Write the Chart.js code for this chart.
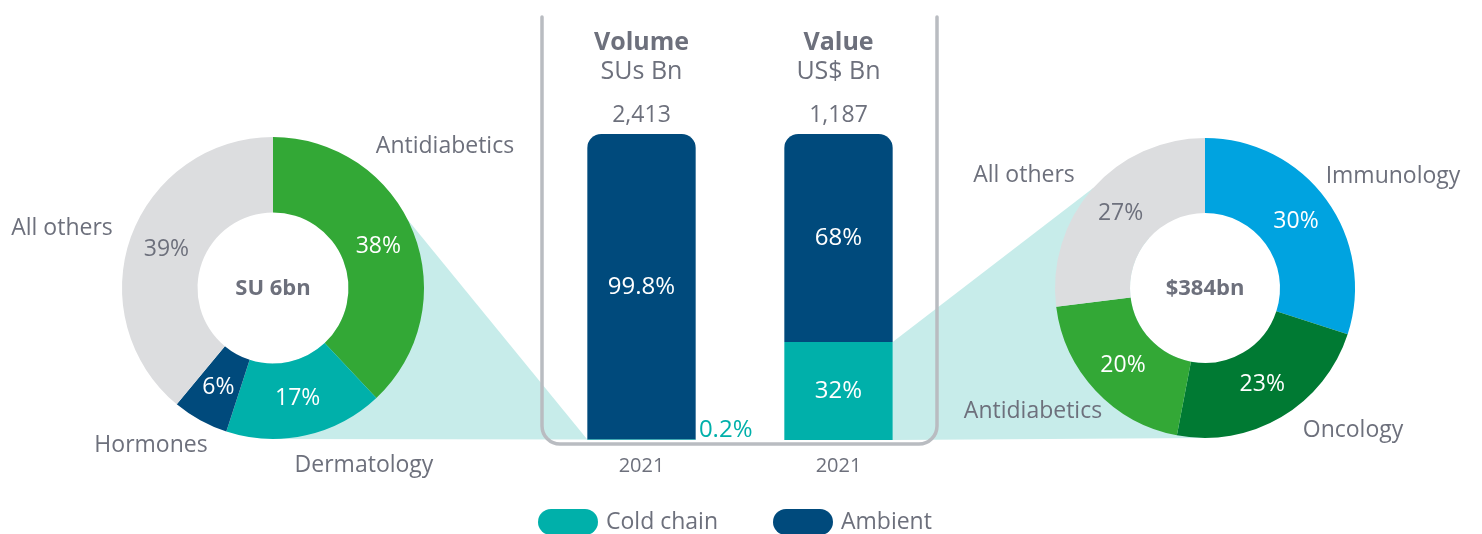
<!DOCTYPE html>
<html>
<head>
<meta charset="utf-8">
<script src="https://cdn.jsdelivr.net/npm/chart.js@4.4.0/dist/chart.umd.min.js"></script>
<style>
    html, body { margin: 0; padding: 0; background: #fff; overflow: hidden; }
    body { width: 1482px; height: 534px; position: relative; font-family: "Open Sans", sans-serif; }
    .box { position: absolute; }
    #bar-box { left: 0; top: 0; width: 1482px; height: 534px; }
    #left-box { left: 0; top: 100px; width: 546px; height: 380px; }
    #right-box { left: 936px; top: 100px; width: 546px; height: 380px; }
</style>
</head>
<body>
<div class="box" id="bar-box"><canvas id="bar-chart"></canvas></div>
<div class="box" id="left-box"><canvas id="volume-donut"></canvas></div>
<div class="box" id="right-box"><canvas id="value-donut"></canvas></div>
<script>
// ---- data ----
const volumeCategories = ['Antidiabetics', 'Dermatology', 'Hormones', 'All others'];
const volumeShares = [38, 17, 6, 39];
const volumeCentreLabel = 'SU 6bn';

const valueCategories = ['Immunology', 'Oncology', 'Antidiabetics', 'All others'];
const valueShares = [30, 23, 20, 27];
const valueCentreLabel = '$384bn';

const barYears = ['2021', '2021'];
const barTitles = ['Volume', 'Value'];
const barUnits = ['SUs Bn', 'US$ Bn'];
const barTotals = ['2,413', '1,187'];
const coldChainShares = [0.2, 32];
const ambientShares = [99.8, 68];

// ---- styles ----
const TEXT_GRAY = '#6d707c';
const GREEN = '#33a836';
const DARK_GREEN = '#007a33';
const TEAL = '#00b0aa';
const NAVY = '#004a7c';
const BLUE = '#00a3e0';
const LIGHT_GRAY = '#dcdddf';
const CONNECTOR = '#c7ecea';
const FRAME = '#b9bcc1';
const FONT = '"Open Sans", "Noto Sans", sans-serif';

// where the category names sit, relative to the donut centre
const volumeNameOffsets = [[172, -142], [91, 177], [-122, 157], [-211, -60]];
const valueNameOffsets = [[188, -112], [148, 142], [-172, 123], [-181, -113]];
// angle (degrees from 12 o'clock) where each connector leaves its donut
const leftConnectorAngle = 63;
const rightConnectorAngle = 312;

const donutDecor = {
    id: 'donutDecor',
    beforeDatasetsDraw(chart) {
        const arc = chart.getDatasetMeta(0).data[0];
        const ctx = chart.ctx;
        ctx.save();
        ctx.fillStyle = '#ffffff';
        ctx.beginPath();
        ctx.arc(arc.x, arc.y, arc.innerRadius, 0, Math.PI * 2);
        ctx.fill();
        ctx.restore();
    },
    afterDatasetsDraw(chart, _args, opts) {
        const meta = chart.getDatasetMeta(0);
        const values = chart.data.datasets[0].data;
        const labels = chart.data.labels;
        const ctx = chart.ctx;
        const cx = meta.data[0].x;
        const cy = meta.data[0].y;
        ctx.save();
        ctx.textAlign = 'center';
        ctx.textBaseline = 'middle';

        // percentages inside the ring
        ctx.font = '400 23px ' + FONT;
        meta.data.forEach((arc, i) => {
            const mid = (arc.startAngle + arc.endAngle) / 2;
            const r = (arc.innerRadius + arc.outerRadius) / 2;
            ctx.fillStyle = opts.pctColors[i];
            ctx.fillText(values[i] + '%', cx + Math.cos(mid) * r, cy + Math.sin(mid) * r);
        });

        // centre total
        ctx.fillStyle = TEXT_GRAY;
        ctx.font = '700 22px ' + FONT;
        ctx.fillText(opts.centre, cx, cy + 1);

        // category names
        ctx.font = '400 23px ' + FONT;
        labels.forEach((name, i) => {
            const off = opts.nameOffsets[i];
            ctx.fillText(name, cx + off[0], cy + off[1]);
        });
        ctx.restore();
    }
};

function makeDonut(canvasId, labels, shares, colors, pctColors, centre, nameOffsets, padding) {
    return new Chart(document.getElementById(canvasId), {
        type: 'doughnut',
        data: {
            labels: labels,
            datasets: [{
                data: shares,
                backgroundColor: colors,
                borderWidth: 0
            }]
        },
        options: {
            animation: false,
            responsive: true,
            maintainAspectRatio: false,
            cutout: '50%',
            layout: { padding: padding },
            plugins: {
                legend: { display: false },
                tooltip: { enabled: false },
                donutDecor: { centre: centre, nameOffsets: nameOffsets, pctColors: pctColors }
            }
        },
        plugins: [donutDecor]
    });
}

const volumeDonut = makeDonut('volume-donut', volumeCategories, volumeShares,
    [GREEN, TEAL, NAVY, LIGHT_GRAY], ['#fff', '#fff', '#fff', TEXT_GRAY],
    volumeCentreLabel, volumeNameOffsets, { left: 122, right: 122, top: 37, bottom: 41 });

const valueDonut = makeDonut('value-donut', valueCategories, valueShares,
    [BLUE, DARK_GREEN, GREEN, LIGHT_GRAY], ['#fff', '#fff', '#fff', TEXT_GRAY],
    valueCentreLabel, valueNameOffsets, { left: 119, right: 127, top: 37, bottom: 41 });

// donut geometry in page (= bar canvas) coordinates
function donutGeometry(chart) {
    const arc = chart.getDatasetMeta(0).data[0];
    const box = chart.canvas.parentNode;
    return { x: arc.x + box.offsetLeft, y: arc.y + box.offsetTop, r: arc.outerRadius };
}

function pointOnCircle(g, deg) {
    const a = (deg - 90) * Math.PI / 180;
    return [g.x + Math.cos(a) * g.r, g.y + Math.sin(a) * g.r];
}

function pill(ctx, x, y, w, h) {
    const r = h / 2;
    ctx.beginPath();
    ctx.moveTo(x + r, y);
    ctx.lineTo(x + w - r, y);
    ctx.arc(x + w - r, y + r, r, -Math.PI / 2, Math.PI / 2);
    ctx.lineTo(x + r, y + h);
    ctx.arc(x + r, y + r, r, Math.PI / 2, Math.PI * 1.5);
    ctx.closePath();
    ctx.fill();
}

const barDecor = {
    id: 'barDecor',
    beforeDatasetsDraw(chart) {
        const ctx = chart.ctx;
        const area = chart.chartArea;
        const cold = chart.getDatasetMeta(0).data;
        const amb = chart.getDatasetMeta(1).data;

        // light teal connectors
        const lg = donutGeometry(volumeDonut);
        const rg = donutGeometry(valueDonut);
        ctx.save();
        ctx.fillStyle = CONNECTOR;

        const volBar = amb[0];
        const p1 = pointOnCircle(lg, leftConnectorAngle);
        ctx.beginPath();
        ctx.moveTo(p1[0], p1[1]);
        ctx.lineTo(volBar.x - volBar.width / 2, volBar.base);
        ctx.lineTo(lg.x, lg.y + lg.r);
        ctx.lineTo(lg.x, lg.y);
        ctx.closePath();
        ctx.fill();

        const valCold = cold[1];
        const q = pointOnCircle(rg, rightConnectorAngle);
        ctx.beginPath();
        ctx.moveTo(valCold.x + valCold.width / 2, valCold.y);
        ctx.lineTo(q[0], q[1]);
        ctx.lineTo(rg.x, rg.y);
        ctx.lineTo(rg.x, rg.y + rg.r);
        ctx.lineTo(valCold.x + valCold.width / 2, valCold.base);
        ctx.closePath();
        ctx.fill();

        // U-shaped frame around the bars
        const left = area.left - 1;
        const right = area.right;
        const bottom = area.bottom + 4;
        const top = 17;
        const rad = 18;
        ctx.strokeStyle = FRAME;
        ctx.lineWidth = 3.5;
        ctx.lineCap = 'round';
        ctx.beginPath();
        ctx.moveTo(left, top);
        ctx.lineTo(left, bottom - rad);
        ctx.arcTo(left, bottom, left + rad, bottom, rad);
        ctx.lineTo(right - rad, bottom);
        ctx.arcTo(right, bottom, right, bottom - rad, rad);
        ctx.lineTo(right, top);
        ctx.stroke();
        ctx.restore();
    },
    afterDatasetsDraw(chart) {
        const ctx = chart.ctx;
        const amb = chart.getDatasetMeta(1).data;
        ctx.save();
        ctx.textAlign = 'center';
        ctx.textBaseline = 'middle';

        // headings and totals
        amb.forEach((bar, i) => {
            ctx.fillStyle = TEXT_GRAY;
            ctx.font = '700 25px ' + FONT;
            ctx.fillText(barTitles[i], bar.x, 43);
            ctx.font = '400 25px ' + FONT;
            ctx.fillText(barUnits[i], bar.x, 72);
            ctx.font = '400 23px ' + FONT;
            ctx.fillText(barTotals[i], bar.x, bar.y - 19);
        });

        // segment shares
        ctx.font = '400 24px ' + FONT;
        chart.data.datasets.forEach((ds, di) => {
            chart.getDatasetMeta(di).data.forEach((bar, i) => {
                const v = ds.data[i];
                const h = Math.abs(bar.base - bar.y);
                if (h > 24) {
                    ctx.fillStyle = '#ffffff';
                    ctx.fillText(v + '%', bar.x, (bar.y + bar.base) / 2);
                } else {
                    ctx.fillStyle = ds.backgroundColor;
                    ctx.fillText(v + '%', bar.x + bar.width / 2 + 30, bar.base - 10);
                }
            });
        });

        // legend with pill swatches
        const legendY = 522;
        let x = chart.chartArea.left - 5;
        ctx.textAlign = 'left';
        ctx.font = '400 23px ' + FONT;
        chart.data.datasets.forEach(ds => {
            ctx.fillStyle = ds.backgroundColor;
            pill(ctx, x, legendY - 13, 60, 26);
            x += 68;
            ctx.fillStyle = TEXT_GRAY;
            ctx.fillText(ds.label, x, legendY);
            x += ctx.measureText(ds.label).width + 55;
        });
        ctx.restore();
    }
};

const barChart = new Chart(document.getElementById('bar-chart'), {
    type: 'bar',
    data: {
        labels: barYears,
        datasets: [
            { label: 'Cold chain', data: coldChainShares, backgroundColor: TEAL, borderRadius: 14, borderSkipped: 'start' },
            { label: 'Ambient', data: ambientShares, backgroundColor: NAVY, borderRadius: 14, borderSkipped: 'start' }
        ]
    },
    options: {
        animation: false,
        responsive: true,
        maintainAspectRatio: false,
        layout: { padding: { left: 543, right: 545, top: 134, bottom: 42 } },
        datasets: { bar: { categoryPercentage: 1, barPercentage: 0.55 } },
        plugins: {
            legend: { display: false },
            tooltip: { enabled: false }
        },
        scales: {
            x: {
                stacked: true,
                grid: { display: false, drawTicks: false },
                border: { display: false },
                ticks: { color: TEXT_GRAY, font: { family: FONT, size: 20 }, padding: 14 }
            },
            y: { stacked: true, display: false, min: 0, max: 100 }
        }
    },
    plugins: [barDecor]
});
</script>
</body>
</html>
